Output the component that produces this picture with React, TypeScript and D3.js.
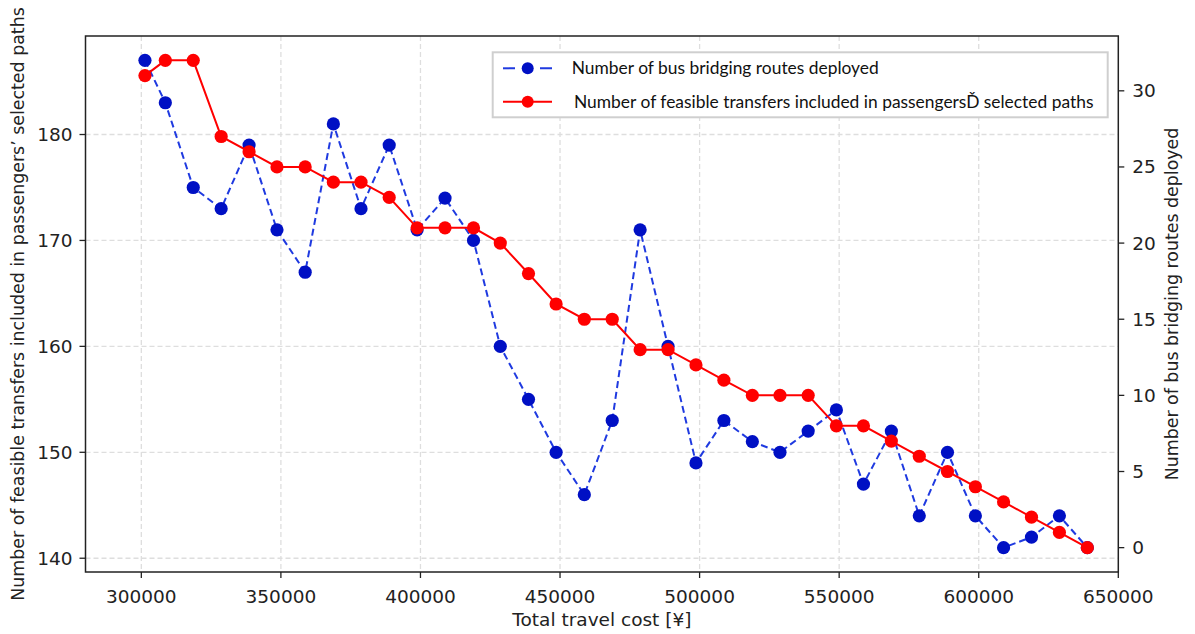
import React from "react";
import * as d3 from "d3";

// total travel cost (x) for each solution
const costs = [
  301300, 308600, 318600, 328600, 338600, 348600, 358700, 368800, 378700,
  388800, 398800, 408800, 419000, 428600, 438700, 448600, 458700, 468700,
  478700, 488700, 498700, 508700, 518900, 528800, 538900, 549000, 558700,
  568700, 578700, 588800, 598800, 608900, 618900, 628900, 638900,
];
// blue series, plotted against left axis
const blueValues = [
  187, 183, 175, 173, 179, 171, 167, 181, 173, 179, 171, 174, 170, 160, 155,
  150, 146, 153, 171, 160, 149, 153, 151, 150, 152, 154, 147, 152, 144, 150,
  144, 141, 142, 144, 141,
];
// red series, plotted against right axis
const redValues = [
  31, 32, 32, 27, 26, 25, 25, 24, 24, 23, 21, 21, 21, 20, 18, 16, 15, 15, 13,
  13, 12, 11, 10, 10, 10, 8, 8, 7, 6, 5, 4, 3, 2, 1, 0,
];
const xTicks = [300000, 350000, 400000, 450000, 500000, 550000, 600000, 650000];
const leftTicks = [140, 150, 160, 170, 180];
const rightTicks = [0, 5, 10, 15, 20, 25, 30];
const legendLabels = [
  "Number of bus bridging routes deployed",
  "Number of feasible transfers included in passengersĎ selected paths",
];

const W = 1195;
const H = 634;
const plot = { left: 85.5, right: 1118.3, top: 36, bottom: 572 };
const BLUE_LINE = "#1f3ae0";
const BLUE_DOT = "#0010c4";
const RED = "#ff0000";
const AXIS = "#222";
const TICK_FONT = "'DejaVu Sans', sans-serif";

// matplotlib style 5% padding
const padded = (vals: number[]) => {
  const [lo, hi] = d3.extent(vals) as [number, number];
  const p = (hi - lo) * 0.05;
  return [lo - p, hi + p];
};

const App = () => {
  const x = d3.scaleLinear().domain([280000, 650000]).range([plot.left, plot.right]);
  const yL = d3.scaleLinear().domain(padded(blueValues)).range([plot.bottom, plot.top]);
  const yR = d3.scaleLinear().domain(padded(redValues)).range([plot.bottom, plot.top]);

  const blueLine = d3
    .line<number>()
    .x((d, i) => x(costs[i]))
    .y((d) => yL(d));
  const redLine = d3
    .line<number>()
    .x((d, i) => x(costs[i]))
    .y((d) => yR(d));

  const legX = 492.7;
  const legY = 52.3;
  const rows = [68.3, 101.7];

  return (
    <svg
      width={W}
      height={H}
      style={{ position: "absolute", left: 0, top: 0, background: "#fff" }}
    >
      {/* grid */}
      <g stroke="#dedede" strokeWidth={1.3} strokeDasharray="5,3">
        {xTicks
          .filter((t) => x(t) < plot.right - 1)
          .map((t) => (
            <line key={"gx" + t} x1={x(t)} x2={x(t)} y1={plot.top} y2={plot.bottom} />
          ))}
        {leftTicks.map((t) => (
          <line key={"gy" + t} x1={plot.left} x2={plot.right} y1={yL(t)} y2={yL(t)} />
        ))}
      </g>

      {/* blue series */}
      <path
        d={blueLine(blueValues) || ""}
        fill="none"
        stroke={BLUE_LINE}
        strokeWidth={2}
        strokeDasharray="7,4"
      />
      {blueValues.map((v, i) => (
        <circle key={"b" + i} cx={x(costs[i])} cy={yL(v)} r={6.6} fill={BLUE_DOT} />
      ))}

      {/* red series */}
      <path d={redLine(redValues) || ""} fill="none" stroke={RED} strokeWidth={2} />
      {redValues.map((v, i) => (
        <circle key={"r" + i} cx={x(costs[i])} cy={yR(v)} r={6.6} fill={RED} />
      ))}

      {/* frame */}
      <rect
        x={plot.left}
        y={plot.top}
        width={plot.right - plot.left}
        height={plot.bottom - plot.top}
        fill="none"
        stroke={AXIS}
        strokeWidth={1.5}
      />

      {/* axes */}
      <g fontFamily={TICK_FONT} fontSize={18.5} fill={AXIS}>
        {xTicks.map((t) => (
          <g key={"xt" + t}>
            <line x1={x(t)} x2={x(t)} y1={plot.bottom} y2={plot.bottom + 6} stroke={AXIS} strokeWidth={1.3} />
            <text x={x(t)} y={603} textAnchor="middle">
              {t}
            </text>
          </g>
        ))}
        {leftTicks.map((t) => (
          <g key={"lt" + t}>
            <line x1={plot.left - 6} x2={plot.left} y1={yL(t)} y2={yL(t)} stroke={AXIS} strokeWidth={1.3} />
            <text x={plot.left - 13} y={yL(t)} textAnchor="end" dominantBaseline="central">
              {t}
            </text>
          </g>
        ))}
        {rightTicks.map((t) => (
          <g key={"rt" + t}>
            <line x1={plot.right} x2={plot.right + 6} y1={yR(t)} y2={yR(t)} stroke={AXIS} strokeWidth={1.3} />
            <text x={plot.right + 14} y={yR(t)} dominantBaseline="central">
              {t}
            </text>
          </g>
        ))}
      </g>

      {/* axis labels */}
      <g fontFamily={TICK_FONT} fill={AXIS}>
        <text x={(plot.left + plot.right) / 2} y={626} textAnchor="middle" fontSize={18.5}>
          Total travel cost [¥]
        </text>
        <text
          transform={`translate(24,${(plot.top + plot.bottom) / 2}) rotate(-90)`}
          textAnchor="middle"
          fontSize={17.4}
        >
          Number of feasible transfers included in passengers’ selected paths
        </text>
        <text
          transform={`translate(1178,${(plot.top + plot.bottom) / 2}) rotate(-90)`}
          textAnchor="middle"
          fontSize={17.4}
        >
          Number of bus bridging routes deployed
        </text>
      </g>

      {/* legend */}
      <rect
        x={legX}
        y={legY}
        width={1107.7 - legX}
        height={117.3 - legY}
        fill="#fff"
        stroke="#cfcfcf"
        strokeWidth={2}
      />
      <line x1={503} x2={552} y1={rows[0]} y2={rows[0]} stroke={BLUE_LINE} strokeWidth={2} strokeDasharray="12,25" />
      <circle cx={527.7} cy={rows[0]} r={6} fill={BLUE_DOT} />
      <line x1={503} x2={552} y1={rows[1]} y2={rows[1]} stroke={RED} strokeWidth={2} />
      <circle cx={527.7} cy={rows[1]} r={6} fill={RED} />
      <g fontFamily="Lato, 'Open Sans', sans-serif" fontSize={17.4} fill="#111">
        <text x={571.7} y={74}>
          {legendLabels[0]}
        </text>
        <text x={574} y={108.3}>
          {legendLabels[1]}
        </text>
      </g>
    </svg>
  );
};

export default App;
